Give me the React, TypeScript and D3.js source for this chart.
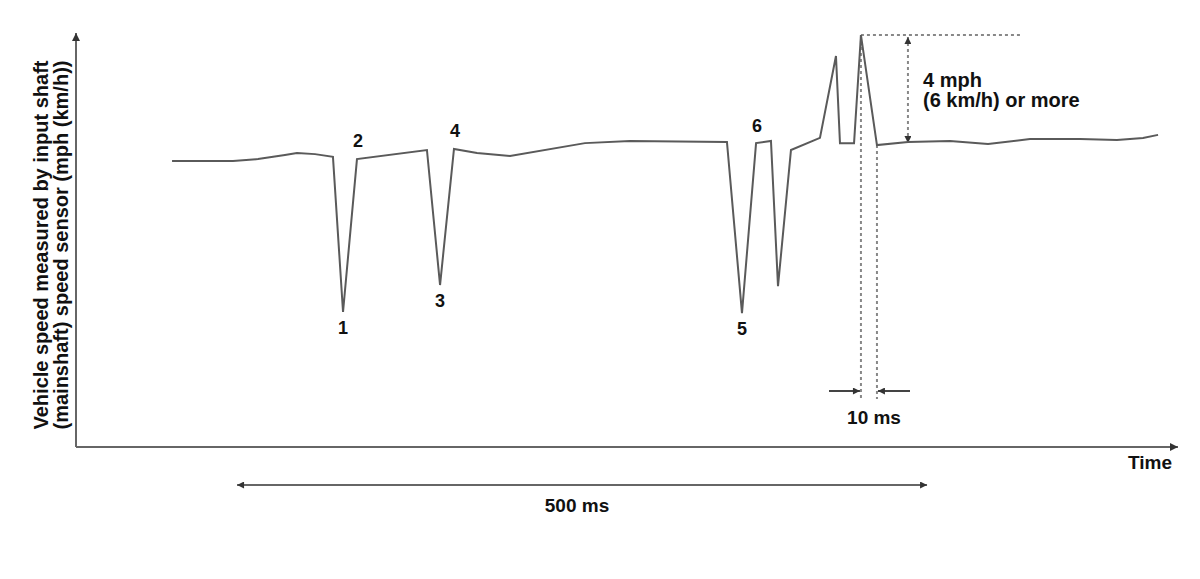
import React from 'react';
import * as d3 from 'd3';

// Trace: time in ms, speed in mph
const traceTime = [
  69.6, 113.8, 131.9, 151.4, 160.1, 173.2, 186.2, 193.5, 203.6, 254.3,
  263.8, 273.9, 290.6, 314.5, 368.8, 401.4, 471.7, 482.6, 492.8, 503.6,
  508.7, 518.1, 539.1, 550.7, 553.6, 563.8, 568.8, 580.4, 602.9, 633.3,
  660.9, 691.3, 727.5, 754.3, 773.2, 784.1,
];
const traceSpeed = [
  10.4, 10.4, 10.47, 10.62, 10.69, 10.65, 10.55, 4.91, 10.47, 10.8,
  5.89, 10.84, 10.69, 10.58, 11.05, 11.13, 11.09, 4.87, 11.05, 11.13,
  5.85, 10.8, 11.24, 14.22, 11.05, 11.05, 14.98, 10.98, 11.09, 11.13,
  11.02, 11.2, 11.2, 11.16, 11.24, 11.35,
];

// numbered events: index into the trace, label, placed above or below
const eventIndex = [7, 8, 10, 11, 17, 18];
const eventLabels = ['1', '2', '3', '4', '5', '6'];
const eventBelow = [true, false, true, false, true, false];

const spanStart = 116.7; // ms
const spanLength = 500; // ms
const peakIndex = 26;
const afterPeakIndex = 27;
const riseMph = 4;

const W = 1200;
const H = 579;
const font = '"Liberation Sans", Arial, sans-serif';

export default function App() {
  const x = d3.scaleLinear().domain([0, 800]).range([76, 1180]);
  const y = d3.scaleLinear().domain([0, 15]).range([447, 34.5]);

  const pts: [number, number][] = traceTime.map((t, i) => [t, traceSpeed[i]]);
  const line = d3.line<[number, number]>().x(d => x(d[0])).y(d => y(d[1]));

  const x0 = x(0);
  const y0 = y(0);
  const peakX = x(traceTime[peakIndex]);
  const peakY = y(traceSpeed[peakIndex]);
  const afterX = x(traceTime[afterPeakIndex]);
  const riseBottom = y(traceSpeed[peakIndex] - riseMph);
  const riseX = peakX + 47;
  const msY = 391;
  const spanY = 485;

  return (
    <svg width={W} height={H} style={{ position: 'absolute', left: 0, top: 0, background: '#fff' }}>
      <defs>
        <marker id="ah" viewBox="0 0 10 10" refX="10" refY="5" markerWidth="10" markerHeight="8"
          markerUnits="userSpaceOnUse" orient="auto-start-reverse">
          <path d="M0,0 L10,5 L0,10 z" fill="#333" />
        </marker>
        <marker id="ahs" viewBox="0 0 10 10" refX="10" refY="5" markerWidth="9" markerHeight="7"
          markerUnits="userSpaceOnUse" orient="auto-start-reverse">
          <path d="M0,0 L10,5 L0,10 z" fill="#333" />
        </marker>
      </defs>

      {/* axes */}
      <line x1={x0} y1={y0} x2={x0} y2={33} stroke="#666" strokeWidth={2} markerEnd="url(#ah)" />
      <line x1={x0} y1={y0} x2={1178} y2={y0} stroke="#666" strokeWidth={2} markerEnd="url(#ah)" />

      {/* y label */}
      <g fontFamily={font} fontWeight="bold" fontSize={20} fill="#111" textAnchor="middle">
        <text transform={`translate(48,245) rotate(-90)`}>Vehicle speed measured by input shaft</text>
        <text transform={`translate(68,245) rotate(-90)`}>(mainshaft) speed sensor (mph (km/h))</text>
        <text x={1172} y={469} textAnchor="end" fontSize={19}>Time</text>
      </g>

      {/* dotted guides */}
      <g stroke="#888" strokeWidth={2} strokeDasharray="3,3" fill="none">
        <line x1={peakX} y1={peakY} x2={1020} y2={peakY} />
        <line x1={peakX} y1={peakY} x2={peakX} y2={399} />
        <line x1={afterX} y1={y(traceSpeed[afterPeakIndex])} x2={afterX} y2={399} />
        <line x1={riseX} y1={peakY + 2} x2={riseX} y2={riseBottom - 2} markerStart="url(#ahs)" markerEnd="url(#ahs)" />
      </g>

      {/* trace */}
      <path d={line(pts) || ''} fill="none" stroke="#5a5a5a" strokeWidth={2} strokeLinejoin="miter" />

      <g fontFamily={font} fontWeight="bold" fontSize={18} fill="#111" textAnchor="middle">
        {eventIndex.map((k, i) => (
          <text key={i} x={x(traceTime[k]) + (eventBelow[i] ? 0 : 1)}
            y={y(traceSpeed[k]) + (eventBelow[i] ? 22 : (k === 18 ? -11 : -12))}>
            {eventLabels[i]}
          </text>
        ))}
      </g>

      {/* rise annotation */}
      <g fontFamily={font} fontWeight="bold" fontSize={20} fill="#111">
        <text x={923} y={87}>4 mph</text>
        <text x={923} y={107}>(6 km/h) or more</text>
      </g>

      {/* 10 ms */}
      <line x1={829} y1={msY} x2={peakX - 1} y2={msY} stroke="#444" strokeWidth={2} markerEnd="url(#ahs)" />
      <line x1={910} y1={msY} x2={afterX + 1} y2={msY} stroke="#444" strokeWidth={2} markerEnd="url(#ahs)" />
      <text x={874} y={424} textAnchor="middle" fontFamily={font} fontWeight="bold" fontSize={19} fill="#111">
        10 ms
      </text>

      {/* 500 ms span */}
      <line x1={x(spanStart)} y1={spanY} x2={x(spanStart + spanLength)} y2={spanY}
        stroke="#666" strokeWidth={2} markerStart="url(#ahs)" markerEnd="url(#ahs)" />
      <text x={577} y={512} textAnchor="middle" fontFamily={font} fontWeight="bold" fontSize={19} fill="#111">
        500 ms
      </text>
    </svg>
  );
}
